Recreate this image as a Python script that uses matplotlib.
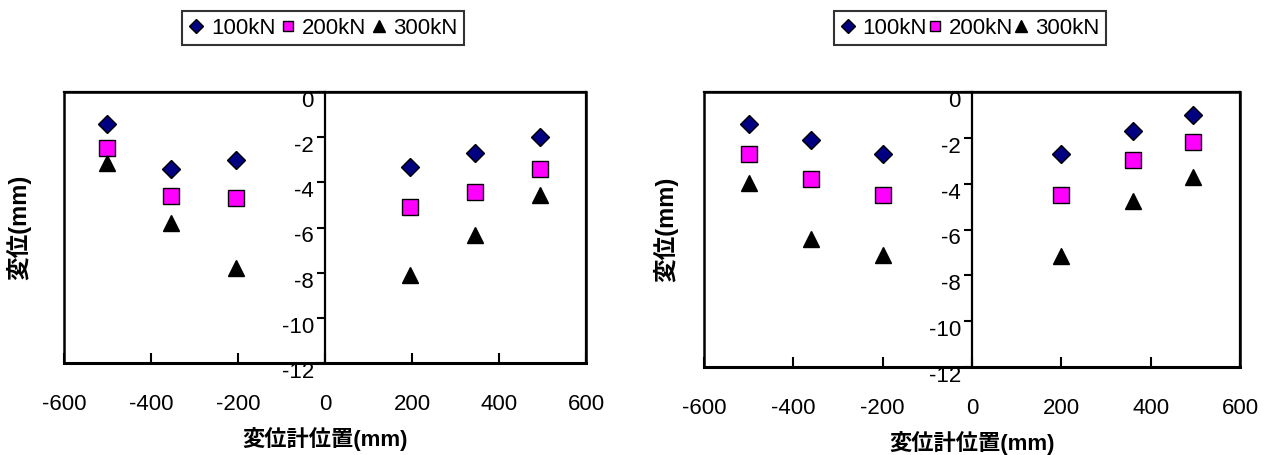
import matplotlib
matplotlib.use("Agg")
import matplotlib.pyplot as plt
import matplotlib.transforms as mtransforms
from matplotlib.patches import Rectangle

plt.rcParams['font.family'] = ['Liberation Sans', 'Noto Sans CJK JP', 'DejaVu Sans']

# data (x: gauge position mm, y: displacement mm)
series_labels = ['100kN', '200kN', '300kN']

left_x = [-500, -355, -205, 195, 345, 495]
left_100 = [-1.4, -3.4, -3.0, -3.3, -2.7, -2.0]
left_200 = [-2.5, -4.6, -4.7, -5.1, -4.45, -3.4]
left_300 = [-3.15, -5.8, -7.8, -8.1, -6.35, -4.55]

right_x = [-500, -360, -200, 200, 360, 495]
right_100 = [-1.4, -2.1, -2.7, -2.7, -1.7, -1.0]
right_200 = [-2.7, -3.8, -4.5, -4.5, -2.95, -2.2]
right_300 = [-3.95, -6.4, -7.1, -7.15, -4.75, -3.7]

x_ticks = [-600, -400, -200, 0, 200, 400, 600]
y_ticks = [0, -2, -4, -6, -8, -10, -12]

styles = [
    dict(marker='D', color='#000080', ms=9.5),
    dict(marker='s', color='#FF00FF', ms=11),
    dict(marker='^', color='black', ms=12),
]

fig = plt.figure(figsize=(12.7, 4.55), dpi=100)


def draw_panel(rect, xs, ys_list, legend_center, colsp, textpad):
    ax = fig.add_axes(rect)
    for ys, st, lab in zip(ys_list, styles, series_labels):
        ax.plot(xs, ys, linestyle='none', marker=st['marker'], markersize=st['ms'],
                markerfacecolor=st['color'], markeredgecolor='black',
                markeredgewidth=1.0, label=lab, clip_on=False)
    ax.set_xlim(-600, 600)
    ax.set_ylim(-12, 0)
    ax.set_xticks(x_ticks)
    ax.set_yticks(y_ticks)
    ax.set_yticklabels([str(t) for t in y_ticks])
    ax.set_xticklabels([str(t) for t in x_ticks])

    # y axis sits at x=0, the box is drawn separately
    ax.spines['left'].set_position(('data', 0))
    for s in ax.spines.values():
        s.set_linewidth(1.6)
    ax.spines['bottom'].set_linewidth(2.2)
    ax.add_patch(Rectangle((0, 0), 1, 1, transform=ax.transAxes, fill=False,
                           lw=1.8, edgecolor='black', clip_on=False, zorder=5))

    ax.tick_params(axis='x', direction='in', length=7, width=1.5, pad=22,
                   labelsize=16)
    ax.tick_params(axis='y', direction='out', length=6, width=1.5, pad=2,
                   labelsize=16)
    off = mtransforms.ScaledTranslation(0, -5 / 72, fig.dpi_scale_trans)
    for lbl in ax.get_yticklabels():
        lbl.set_transform(lbl.get_transform() + off)

    ax.set_xlabel('変位計位置(mm)', fontsize=16, fontweight='bold', labelpad=9)
    ax.set_ylabel('変位(mm)', fontsize=17, fontweight='bold')

    leg = fig.legend(*ax.get_legend_handles_labels(), loc='center',
                     bbox_to_anchor=legend_center, ncol=3, fontsize=16,
                     frameon=True, fancybox=False, edgecolor='black',
                     handlelength=0.7, handletextpad=textpad, columnspacing=colsp,
                     borderpad=0.3, borderaxespad=0)
    leg.get_frame().set_linewidth(1.5)
    for h in leg.legend_handles:
        h.set_markersize(h.get_markersize() * 0.7)
    return ax


ax1 = draw_panel([64 / 1270, 1 - 363 / 455, 522 / 1270, 271 / 455],
                 left_x, [left_100, left_200, left_300], (323 / 1270, 1 - 28 / 455),
                 0.2, 0.3)
ax1.yaxis.set_label_coords(-0.063, 0.5)

ax2 = draw_panel([704 / 1270, 1 - 367 / 455, 536 / 1270, 275 / 455],
                 right_x, [right_100, right_200, right_300], (970 / 1270, 1 - 28 / 455),
                 -0.02, 0.3)
ax2.yaxis.set_label_coords(-0.047, 0.5)

fig.savefig('out.png', dpi=100)
